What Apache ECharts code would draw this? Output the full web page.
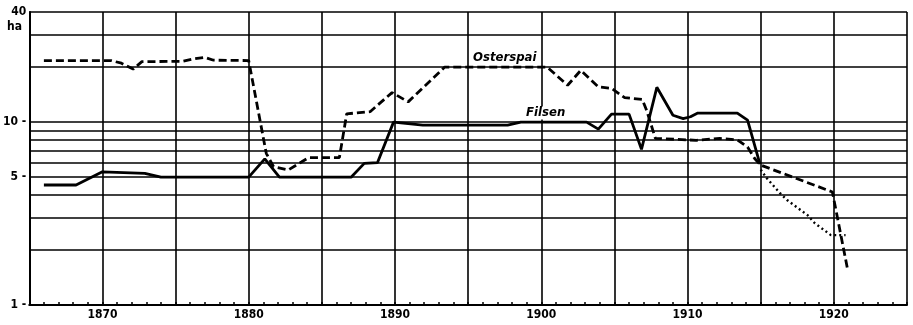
<!DOCTYPE html>
<html>
<head>
<meta charset="utf-8">
<script src="https://cdn.jsdelivr.net/npm/echarts@6/dist/echarts.min.js"></script>
<style>
  html, body { margin: 0; padding: 0; background: #fff; }
  #chart { width: 913px; height: 325px; }
</style>
</head>
<body>
<div id="chart"></div>
<script>
// Cultivated area (ha) per year, log scale
const osterspaiYears = [1866, 1870.6, 1871.3, 1872.1, 1872.7, 1875.5, 1876.3, 1877, 1877.6, 1880,
  1881.2, 1881.7, 1882.7, 1883.6, 1884.1, 1886.2, 1886.7, 1888.3, 1889.8, 1890.9,
  1893.4, 1900.4, 1901.8, 1902.7, 1903.9, 1904.8, 1905.7, 1906.9, 1907.2, 1907.8,
  1910.6, 1912.2, 1913.4, 1914.1, 1914.6, 1915, 1919.9, 1920.95];
const osterspaiArea = [21.7, 21.7, 21, 19.5, 21.4, 21.5, 22.2, 22.6, 21.8, 21.7,
  6.75, 5.7, 5.47, 6.05, 6.4, 6.4, 11.1, 11.4, 14.5, 12.9,
  20, 20, 15.9, 19.2, 15.6, 15.3, 13.6, 13.3, 11.6, 8.15,
  7.95, 8.15, 8.0, 7.3, 6.3, 5.82, 4.15, 1.55];

const filsenYears = [1866, 1868.2, 1870, 1872.9, 1874, 1880, 1881.1, 1882.1, 1887, 1887.9,
  1888.8, 1889.9, 1891.9, 1897.7, 1898.6, 1903.1, 1903.9, 1904.8, 1906, 1906.85,
  1907.9, 1909, 1909.7, 1910.2, 1910.7, 1913.4, 1914.1, 1914.95];
const filsenArea = [4.53, 4.53, 5.35, 5.25, 5.0, 5.0, 6.3, 5.0, 5.0, 5.95,
  6.0, 10.0, 9.63, 9.63, 10.0, 10.0, 9.16, 11.06, 11.06, 7.1,
  15.5, 10.9, 10.45, 10.7, 11.2, 11.2, 10.26, 5.9];

const dottedYears = [1915, 1915.4, 1916.3, 1916.8, 1918.2, 1918.7, 1919.8, 1920.8];
const dottedArea = [5.5, 4.95, 4.1, 3.75, 3.1, 2.8, 2.41, 2.41];

// Axis values
const gridValues = [1, 2, 3, 4, 5, 6, 7, 8, 9, 10, 20, 30, 40];
const yLabelValues = [1, 5, 10, 40];
const xLabelYears = [1870, 1880, 1890, 1900, 1910, 1920];
const unitLabel = 'ha';

// Series captions and where they sit in data space
const captionNames = ['Osterspai', 'Filsen'];
const captionYears = [1897.5, 1900.3];
const captionArea = [22.6, 11.2];

const pair = (xs, ys) => xs.map((x, i) => [x, ys[i]]);
const FONT = "'Liberation Sans Narrow', 'DejaVu Sans Condensed', 'Liberation Sans', sans-serif";

const chart = echarts.init(document.getElementById('chart'), null, { renderer: 'canvas' });

chart.setOption({
  animation: false,
  backgroundColor: '#fff',
  grid: { left: 24, right: 6, top: 12, bottom: 20, containLabel: false },
  xAxis: {
    type: 'value',
    min: 1865,
    max: 1925,
    interval: 5,
    axisLine: { show: true, lineStyle: { color: '#000', width: 2 } },
    axisTick: { show: true, inside: true, length: 3, lineStyle: { color: '#000', width: 1.5 } },
    minorTick: { show: true, splitNumber: 5, length: 3, lineStyle: { color: '#000', width: 1.5 } },
    splitLine: { show: true, lineStyle: { color: '#000', width: 1.6 } },
    axisLabel: {
      customValues: xLabelYears,
      formatter: v => String(v),
      color: '#000',
      fontFamily: FONT,
      fontWeight: 'bold',
      fontSize: 12,
      margin: 4
    }
  },
  yAxis: {
    type: 'log',
    logBase: 10,
    min: 1,
    max: 40,
    axisLine: { show: true, lineStyle: { color: '#000', width: 2 } },
    axisTick: { show: false, customValues: gridValues },
    splitLine: { show: true, lineStyle: { color: '#000', width: 1.5 } },
    axisLabel: {
      customValues: yLabelValues,
      formatter: v => (v === 40 ? '40' : v + ' -'),
      color: '#000',
      fontFamily: FONT,
      fontWeight: 'bold',
      fontSize: 12,
      margin: 3
    }
  },
  graphic: [{
    type: 'text',
    left: 7,
    top: 21,
    style: { text: unitLabel, fill: '#000', font: 'bold 12px ' + FONT }
  }],
  series: [
    {
      name: 'Osterspai',
      type: 'line',
      data: pair(osterspaiYears, osterspaiArea),
      showSymbol: false,
      lineStyle: { color: '#000', width: 2.8, type: [8, 4] },
      z: 5
    },
    {
      name: 'Filsen',
      type: 'line',
      data: pair(filsenYears, filsenArea),
      showSymbol: false,
      lineStyle: { color: '#000', width: 2.8 },
      z: 5
    },
    {
      name: 'Filsen (dotted)',
      type: 'line',
      data: pair(dottedYears, dottedArea),
      showSymbol: false,
      lineStyle: { color: '#000', width: 2.4, type: [2, 3] },
      z: 5
    },
    {
      name: 'captions',
      type: 'scatter',
      data: captionNames.map((n, i) => [captionYears[i], captionArea[i], n]),
      symbolSize: 0,
      silent: true,
      itemStyle: { opacity: 1 },
      z: 6,
      label: {
        show: true,
        position: 'inside',
        formatter: p => p.data[2],
        color: '#000',
        opacity: 1,
        fontFamily: FONT,
        fontWeight: 'bold',
        fontStyle: 'italic',
        fontSize: 13,
        backgroundColor: '#fff',
        padding: [0, 2]
      }
    }
  ]
});
</script>
</body>
</html>
